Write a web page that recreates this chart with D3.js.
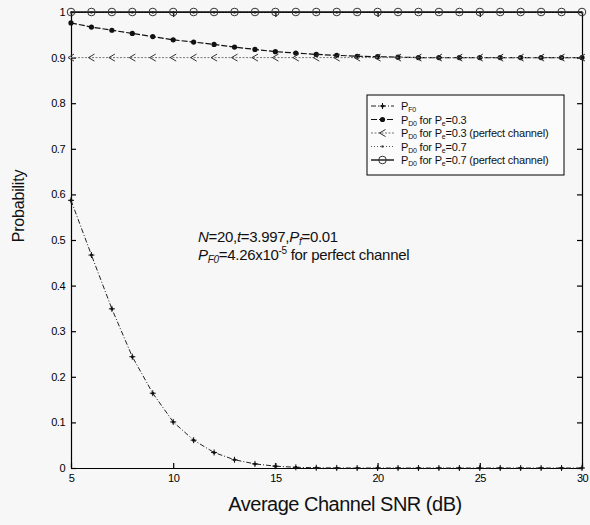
<!DOCTYPE html>
<html>
<head>
<meta charset="utf-8">
<script src="https://cdn.jsdelivr.net/npm/d3@7"></script>
<style>
body{margin:0;background:#f7f7f7;}
#canvas{width:590px;height:525px;}
text{font-family:"Liberation Sans",Arial,sans-serif;fill:#111;}
.axis path,.axis line{stroke:#000;stroke-width:1.2px;}
.axis text{font-size:11px;letter-spacing:-0.5px;fill:#000;}
</style>
</head>
<body>
<div id="canvas" class="canvas"></div>
<script>
// data (SNR in dB, 5..30 step 1)
var snr = [5,6,7,8,9,10,11,12,13,14,15,16,17,18,19,20,21,22,23,24,25,26,27,28,29,30];
var pF0 = [0.587,0.467,0.349,0.244,0.164,0.101,0.061,0.034,0.018,0.009,0.004,0.0015,0.0005,0.0002,0,0,0,0,0,0,0,0,0,0,0,0];
var pD0e03 = [0.976,0.967,0.960,0.953,0.946,0.939,0.934,0.929,0.923,0.918,0.913,0.910,0.907,0.905,0.903,0.902,0.901,0.900,0.900,0.900,0.900,0.900,0.900,0.900,0.900,0.900];
var pD0e03perfect = [0.9,0.9,0.9,0.9,0.9,0.9,0.9,0.9,0.9,0.9,0.9,0.9,0.9,0.9,0.9,0.9,0.9,0.9,0.9,0.9,0.9,0.9,0.9,0.9,0.9,0.9];
var pD0e07 = [0.999,0.999,0.999,0.999,0.999,0.999,0.999,0.999,0.999,0.999,0.999,0.999,0.999,0.999,0.999,0.999,0.999,0.999,0.999,0.999,0.999,0.999,0.999,0.999,0.999,0.999];
var pD0e07perfect = [1,1,1,1,1,1,1,1,1,1,1,1,1,1,1,1,1,1,1,1,1,1,1,1,1,1];
var xTicks = [5,10,15,20,25,30];
var yTicks = [0,0.1,0.2,0.3,0.4,0.5,0.6,0.7,0.8,0.9,1];
var legendLabels = [
    [['P',0],['F0',1]],
    [['P',0],['D0',1],[' for P',0],['e',1],['=0.3',0]],
    [['P',0],['D0',1],[' for P',0],['e',1],['=0.3 (perfect channel)',0]],
    [['P',0],['D0',1],[' for P',0],['e',1],['=0.7',0]],
    [['P',0],['D0',1],[' for P',0],['e',1],['=0.7 (perfect channel)',0]]
];

var m = {t:12,r:8,b:57,l:71},
    W = 590, H = 525,
    w = W - m.l - m.r,
    h = H - m.t - m.b;

var svg = d3.select('.canvas').append('svg')
    .attr('width',W).attr('height',H);
svg.append('rect').attr('width',W).attr('height',H).attr('fill','#f7f7f7');

var plot = svg.append('g').attr('transform','translate('+m.l+','+m.t+')');

var x = d3.scaleLinear().domain([5,30]).range([0,w]);
var y = d3.scaleLinear().domain([0,1]).range([h,0]);

// axes, MATLAB style: ticks inside the box
var fmtY = function(d){ return d===0 ? '0' : d===1 ? '1' : d3.format('.1f')(d); };
plot.append('g').attr('class','axis')
    .call(d3.axisLeft(y).tickValues(yTicks).tickFormat(fmtY).tickSizeInner(-5).tickSizeOuter(0).tickPadding(6));
plot.append('g').attr('class','axis')
    .attr('transform','translate('+w+',0)')
    .call(d3.axisRight(y).tickValues(yTicks).tickFormat('').tickSizeInner(-5).tickSizeOuter(0));
plot.append('g').attr('class','axis')
    .attr('transform','translate(0,'+h+')')
    .call(d3.axisBottom(x).tickValues(xTicks).tickFormat(d3.format('d')).tickSizeInner(-5).tickSizeOuter(0).tickPadding(6));
plot.append('g').attr('class','axis')
    .call(d3.axisTop(x).tickValues(xTicks).tickFormat('').tickSizeInner(-5).tickSizeOuter(0));
plot.selectAll('.axis .domain').attr('stroke','#000').attr('stroke-width',1.3);

// series
var series = [
    {name:'pf0', vals:pF0, dash:'5,2,1,2', stroke:'#222', sw:1, marker:'plus'},
    {name:'pd03', vals:pD0e03, dash:'6,2', stroke:'#111', sw:1.2, marker:'dot'},
    {name:'pd03p', vals:pD0e03perfect, dash:'2,1.5', stroke:'#777', sw:1, marker:'tri'},
    {name:'pd07', vals:pD0e07, dash:'1,2', stroke:'#555', sw:1, marker:'small'},
    {name:'pd07p', vals:pD0e07perfect, dash:null, stroke:'#111', sw:1.4, marker:'circle'}
];

var line = d3.line()
    .x(function(d){ return x(d[0]); })
    .y(function(d){ return y(d[1]); });

function drawMarker(g, type){
    if(type==='plus'){
        g.append('path').attr('d','M-3,0L3,0M0,-3L0,3').attr('stroke','#111').attr('stroke-width',1);
        g.append('circle').attr('r',1.5).attr('fill','#111');
    } else if(type==='dot'){
        g.append('circle').attr('r',2.6).attr('fill','#111');
    } else if(type==='tri'){
        g.append('path').attr('d','M3,-3.5L-3,0L3,3.5').attr('fill','none').attr('stroke','#333').attr('stroke-width',1);
    } else if(type==='small'){
        g.append('circle').attr('r',1.2).attr('fill','#444');
    } else if(type==='circle'){
        g.append('circle').attr('r',3.8).attr('fill','none').attr('stroke','#333').attr('stroke-width',1);
    }
}

series.forEach(function(s){
    var pts = snr.map(function(v,i){ return [v, s.vals[i]]; });
    plot.append('path').datum(pts)
        .attr('class','series '+s.name)
        .attr('d',line)
        .attr('fill','none')
        .attr('stroke',s.stroke)
        .attr('stroke-width',s.sw)
        .attr('stroke-dasharray',s.dash);
    plot.selectAll('.mk-'+s.name)
        .data(pts)
        .enter()
        .append('g').attr('class','mk-'+s.name)
        .attr('transform',function(d){ return 'translate('+x(d[0])+','+y(d[1])+')'; })
        .each(function(){ drawMarker(d3.select(this), s.marker); });
});

// legend
var lg = svg.append('g').attr('transform','translate(367,95)');
lg.append('rect').attr('width',197).attr('height',80)
    .attr('fill','#fbfbfb').attr('stroke','#000').attr('stroke-width',1);
series.forEach(function(s,i){
    var row = lg.append('g').attr('transform','translate(0,'+(11+i*13.5)+')');
    row.append('line').attr('x1',4).attr('x2',27).attr('y1',0).attr('y2',0)
        .attr('stroke',s.stroke).attr('stroke-width',s.sw).attr('stroke-dasharray',s.dash);
    drawMarker(row.append('g').attr('transform','translate(15.5,0)'), s.marker);
    var t = row.append('text').attr('x',34).attr('y',4)
        .style('font-size','11px').style('letter-spacing','-0.2px');
    legendLabels[i].forEach(function(p,j){
        var prevSub = j>0 ? legendLabels[i][j-1][1] : 0;
        var ts = t.append('tspan').text(p[0])
            .attr('dy', p[1] && !prevSub ? 2 : (!p[1] && prevSub ? -2 : 0));
        if(p[1]) ts.style('font-size','7px');
    });
});

// annotation
var ann = svg.append('g').style('font-size','15px').style('letter-spacing','-0.3px');
var a1 = ann.append('text').attr('x',198).attr('y',242);
a1.append('tspan').text('N').style('font-style','italic');
a1.append('tspan').text('=20,');
a1.append('tspan').text('t').style('font-style','italic');
a1.append('tspan').text('=3.997,');
a1.append('tspan').text('P').style('font-style','italic');
a1.append('tspan').text('f').style('font-style','italic').style('font-size','10px').attr('dy',3);
a1.append('tspan').text('=0.01').attr('dy',-3);
var a2 = ann.append('text').attr('x',198).attr('y',260);
a2.append('tspan').text('P').style('font-style','italic');
a2.append('tspan').text('F0').style('font-style','italic').style('font-size','10px').attr('dy',3);
a2.append('tspan').text('=4.26x10').attr('dy',-3);
a2.append('tspan').text('-5').style('font-size','10px').attr('dy',-6);
a2.append('tspan').text(' for perfect channel').attr('dy',6);

// axis titles
svg.append('text')
    .attr('x',345).attr('y',511)
    .attr('text-anchor','middle')
    .style('font-size','20px').style('letter-spacing','-0.5px')
    .text('Average Channel SNR (dB)');
svg.append('text')
    .attr('transform','translate(24,206) rotate(-90)')
    .attr('text-anchor','middle')
    .style('font-size','16px').style('letter-spacing','-0.2px')
    .text('Probability');
</script>
</body>
</html>
